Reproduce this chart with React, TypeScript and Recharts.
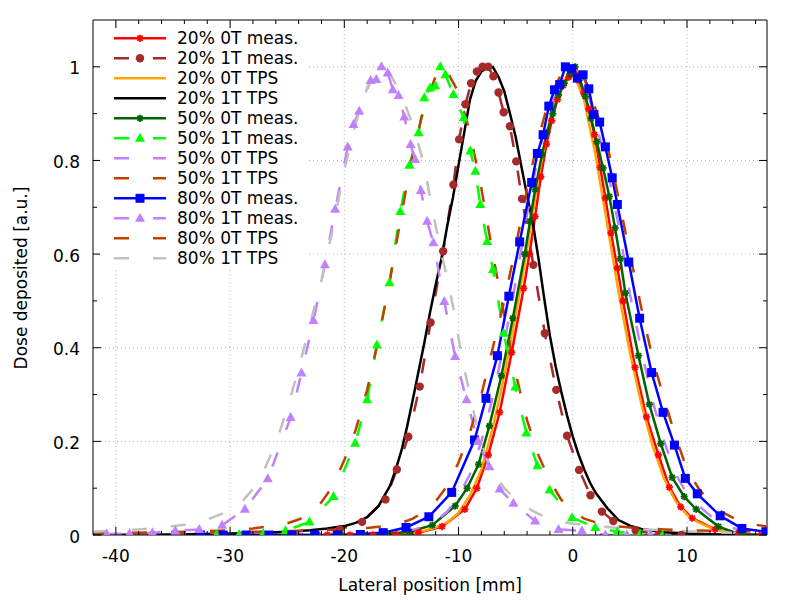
import React from 'react';
import { LineChart, Line, XAxis, YAxis, ReferenceLine } from 'recharts';

type Pt = [number, number];

// ---------- data ----------
const meas20_0T: Pt[] = [[-21.5,0],[-19.5,0],[-17.5,0],[-15.5,0.001],[-13.5,0.005],[-11.45,0.018],[-9.45,0.055],[-8.4,0.1],[-7.4,0.171],[-6.4,0.262],[-5.35,0.39],[-4.3,0.527],[-3.8,0.6],[-3.3,0.68],[-2.8,0.765],[-2.3,0.835],[-1.85,0.885],[-1.35,0.93],[-0.85,0.96],[-0.35,0.978],[0.1,0.985],[0.5,0.972],[0.95,0.945],[1.4,0.91],[1.9,0.855],[2.4,0.785],[2.85,0.72],[3.35,0.645],[3.9,0.57],[4.4,0.5],[5.45,0.358],[6.45,0.252],[7.5,0.171],[8.45,0.102],[9.45,0.06],[10.45,0.036],[12.45,0.012],[14.5,0.002],[16.5,0]];
const meas20_1T: Pt[] = [[-24.4,0],[-22.4,0],[-20.4,0.012],[-18.45,0.028],[-16.4,0.076],[-15.4,0.14],[-14.4,0.21],[-13.4,0.317],[-12.45,0.454],[-11.35,0.606],[-10.45,0.748],[-9.95,0.845],[-9.4,0.92],[-8.9,0.965],[-8.4,0.99],[-7.9,1.0],[-7.4,1.0],[-6.95,0.98],[-6.5,0.945],[-6.05,0.903],[-5.5,0.873],[-4.95,0.798],[-4.45,0.718],[-3.45,0.577],[-2.45,0.431],[-1.45,0.31],[-0.5,0.212],[0.55,0.139],[1.55,0.085],[2.55,0.05],[3.55,0.03],[5.5,0.01],[7.5,0],[9.5,0]];
const tps20_0T: Pt[] = [[-42,0],[-30,0],[-22,0],[-18,0.001],[-16,0.002],[-14,0.005],[-13,0.009],[-12,0.016],[-11,0.027],[-10,0.047],[-9,0.085],[-8,0.14],[-7,0.23],[-6,0.34],[-5,0.47],[-4,0.61],[-3,0.765],[-2,0.89],[-1,0.962],[-0.5,0.98],[0,0.985],[0.5,0.96],[1,0.928],[2,0.81],[3,0.665],[4,0.52],[5,0.39],[6,0.28],[7,0.19],[8,0.12],[9,0.072],[10,0.043],[11,0.027],[12,0.016],[13,0.009],[14,0.004],[15,0.002],[17,0]];
const tps20_1T: Pt[] = [[-42,0],[-35,0.001],[-30,0.003],[-27,0.005],[-25,0.007],[-23,0.01],[-21.5,0.014],[-20,0.019],[-19,0.026],[-18,0.038],[-17,0.062],[-16,0.105],[-15.5,0.14],[-15,0.18],[-14.5,0.232],[-14,0.29],[-13.5,0.35],[-13,0.41],[-12.5,0.475],[-12,0.535],[-11.5,0.59],[-11,0.659],[-10.5,0.72],[-10,0.79],[-9.5,0.86],[-9,0.93],[-8.5,0.97],[-8,0.99],[-7.5,0.997],[-7,1.0],[-6.5,0.978],[-6,0.948],[-5.5,0.9],[-5,0.85],[-4.5,0.787],[-4,0.725],[-3.5,0.667],[-3,0.59],[-2.5,0.505],[-2,0.425],[-1.5,0.36],[-1,0.305],[-0.5,0.255],[0,0.21],[0.5,0.172],[1,0.14],[1.5,0.112],[2,0.09],[3,0.058],[4,0.032],[5,0.02],[6,0.013],[8,0.006],[10,0.003],[13,0.001],[17,0]];
const meas50_0T: Pt[] = [[-20.3,0],[-18.3,0],[-16.3,0.002],[-14.3,0.007],[-12.3,0.021],[-10.3,0.062],[-9.25,0.1],[-8.25,0.151],[-7.3,0.233],[-6.25,0.34],[-5.25,0.463],[-4.2,0.6],[-3.75,0.67],[-3.3,0.738],[-2.7,0.812],[-2.25,0.86],[-1.75,0.9],[-1.25,0.94],[-0.75,0.965],[-0.25,0.985],[0.2,1.0],[0.6,0.975],[1.1,0.937],[1.6,0.89],[2.1,0.84],[2.65,0.784],[3.2,0.723],[3.7,0.656],[4.15,0.59],[4.6,0.517],[5.75,0.383],[6.7,0.279],[7.7,0.195],[8.7,0.123],[9.75,0.082],[10.8,0.055],[12.75,0.018],[14.8,0],[16.8,0]];
const meas50_1T: Pt[] = [[-31.2,0],[-29.2,0.001],[-27.1,0.003],[-25.15,0.009],[-23.05,0.028],[-20.95,0.082],[-19.05,0.196],[-18,0.289],[-17.15,0.406],[-16.05,0.539],[-15.1,0.691],[-14.3,0.79],[-13.5,0.859],[-13,0.934],[-12.5,0.955],[-12.05,0.959],[-11.6,1.0],[-11.15,0.983],[-10.45,0.941],[-9.55,0.891],[-8.97,0.82],[-8.53,0.777],[-8.1,0.706],[-7.5,0.627],[-6.98,0.567],[-6.05,0.431],[-5.03,0.316],[-4.07,0.218],[-3.1,0.148],[-2.03,0.096],[-0.07,0.037],[1.97,0.016],[3.9,0.007],[5.9,0.002],[7.87,0]];
const tps50_0T: Pt[] = [[-42,0.002],[-30,0.002],[-22,0.003],[-18,0.004],[-16,0.006],[-14,0.011],[-13,0.018],[-12,0.03],[-11,0.05],[-10,0.083],[-9,0.13],[-8,0.2],[-7,0.295],[-6,0.41],[-5,0.54],[-4,0.685],[-3,0.815],[-2,0.91],[-1,0.965],[-0.5,0.985],[0,0.995],[0.5,0.99],[1,0.97],[2,0.885],[3,0.784],[4,0.663],[5,0.515],[6,0.395],[7,0.285],[8,0.2],[9,0.13],[10,0.088],[11,0.063],[12,0.042],[13,0.026],[14,0.015],[15,0.009],[17,0.005]];
const tps50_1T: Pt[] = [[-42,0.004],[-38,0.005],[-34,0.007],[-30,0.01],[-28,0.014],[-26,0.02],[-25,0.025],[-24,0.033],[-23,0.045],[-22,0.07],[-21,0.105],[-20,0.16],[-19,0.225],[-18,0.31],[-17,0.42],[-16,0.545],[-15,0.685],[-14,0.815],[-13,0.915],[-12,0.98],[-11.5,1.0],[-11,0.99],[-10,0.945],[-9,0.86],[-8,0.74],[-7,0.6],[-6,0.47],[-5,0.345],[-4,0.245],[-3,0.17],[-2,0.115],[-1,0.075],[0,0.05],[1,0.035],[2,0.027],[4,0.018],[6,0.014],[8,0.012],[10,0.01],[12,0.009],[14,0.008],[17,0.007]];
const meas80_0T: Pt[] = [[-32.6,0],[-30.6,0],[-28.6,0],[-26.6,0],[-24.6,0],[-22.6,0],[-20.6,0],[-18.6,0.001],[-16.6,0.005],[-14.6,0.016],[-12.6,0.039],[-10.6,0.091],[-8.6,0.203],[-7.6,0.292],[-6.6,0.383],[-5.6,0.51],[-4.65,0.626],[-3.6,0.753],[-3.1,0.815],[-2.6,0.855],[-2.1,0.916],[-1.6,0.951],[-1.15,0.962],[-0.65,1.0],[-0.1,0.996],[0.4,0.976],[0.9,0.983],[1.4,0.953],[1.85,0.898],[2.35,0.882],[2.85,0.829],[3.45,0.763],[3.9,0.706],[4.9,0.583],[5.85,0.463],[6.9,0.347],[7.9,0.262],[8.9,0.192],[9.85,0.121],[10.9,0.088],[12.9,0.041],[14.8,0.014],[16.9,0.007]];
const meas80_1T: Pt[] = [[-40.8,0.002],[-38.8,0.003],[-36.8,0.005],[-34.8,0.009],[-32.7,0.012],[-30.7,0.021],[-28.7,0.055],[-26.7,0.12],[-24.7,0.251],[-23.75,0.346],[-22.7,0.458],[-21.7,0.577],[-20.8,0.696],[-19.7,0.829],[-19.2,0.877],[-18.7,0.905],[-17.7,0.971],[-17.2,0.973],[-16.75,1.0],[-16.2,0.987],[-15.75,0.951],[-15.25,0.939],[-14.75,0.893],[-14.2,0.834],[-13.8,0.802],[-13.3,0.736],[-12.75,0.67],[-12.2,0.624],[-11.25,0.499],[-10.3,0.381],[-9.3,0.289],[-8.3,0.2],[-7.3,0.146],[-6.4,0.098],[-5.2,0.068],[-3.3,0.03],[-1.25,0.012],[0.8,0.009],[2.85,0],[4.75,0],[6.8,0]];
const tps80_0T: Pt[] = [[-42,0.004],[-38,0.004],[-34,0.005],[-30,0.006],[-26,0.008],[-22,0.01],[-20,0.012],[-18,0.015],[-16,0.02],[-15,0.026],[-14,0.035],[-13,0.05],[-12,0.072],[-11,0.105],[-10,0.155],[-9,0.22],[-8,0.3],[-7,0.4],[-6,0.5],[-5,0.615],[-4,0.74],[-3,0.85],[-2,0.935],[-1,0.985],[-0.4,1.0],[0,0.998],[1,0.975],[2,0.91],[3,0.835],[4,0.72],[5,0.6],[6,0.485],[7,0.375],[8,0.29],[9,0.21],[10,0.14],[11,0.1],[12,0.07],[13,0.05],[14,0.037],[15,0.028],[16,0.022],[17,0.018]];
const tps80_1T: Pt[] = [[-42,0.007],[-40,0.009],[-38,0.012],[-36,0.016],[-34,0.022],[-32,0.033],[-30,0.052],[-29,0.07],[-28,0.098],[-27,0.14],[-26,0.195],[-25,0.27],[-24,0.355],[-23,0.45],[-22,0.545],[-21,0.655],[-20,0.78],[-19,0.88],[-18,0.955],[-17,0.995],[-16.5,1.0],[-16,0.985],[-15,0.94],[-14,0.875],[-13,0.79],[-12.5,0.72],[-12,0.66],[-11.5,0.6],[-11,0.55],[-10.5,0.49],[-10,0.42],[-9.5,0.355],[-9,0.3],[-8.5,0.245],[-8,0.195],[-7,0.135],[-6,0.1],[-5,0.076],[-4,0.058],[-3,0.045],[-2,0.035],[-1,0.028],[0,0.024],[2,0.019],[4,0.015],[6,0.012],[8,0.01],[10,0.008],[12,0.006],[14,0.005],[17,0.004]];

const xTicks = [-40,-38,-36,-34,-32,-30,-28,-26,-24,-22,-20,-18,-16,-14,-12,-10,-8,-6,-4,-2,0,2,4,6,8,10,12,14,16];
const yTicks = [0,0.1,0.2,0.3,0.4,0.5,0.6,0.7,0.8,0.9,1.0];
const xGrid = [-40,-30,-20,-10,0,10];
const yGrid = [0.2,0.4,0.6,0.8,1.0];
const X_DOMAIN: [number, number] = [-42, 17];
const Y_DOMAIN: [number, number] = [0, 1.1];

type Marker = 'none' | 'star' | 'circle' | 'triangle' | 'square';
interface Series { name: string; data: Pt[]; color: string; dash?: string; marker: Marker; }

const DASH = '15 24';
const SERIES: Series[] = [
  { name: '20% 0T meas.', data: meas20_0T, color: '#ff0000', marker: 'star' },
  { name: '20% 1T meas.', data: meas20_1T, color: '#a52a2a', dash: DASH, marker: 'circle' },
  { name: '20% 0T TPS', data: tps20_0T, color: '#ffa500', marker: 'none' },
  { name: '20% 1T TPS', data: tps20_1T, color: '#000000', marker: 'none' },
  { name: '50% 0T meas.', data: meas50_0T, color: '#006400', marker: 'star' },
  { name: '50% 1T meas.', data: meas50_1T, color: '#00ff00', dash: DASH, marker: 'triangle' },
  { name: '50% 0T TPS', data: tps50_0T, color: '#c080ff', dash: DASH, marker: 'none' },
  { name: '50% 1T TPS', data: tps50_1T, color: '#c04000', dash: DASH, marker: 'none' },
  { name: '80% 0T meas.', data: meas80_0T, color: '#0000ff', marker: 'square' },
  { name: '80% 1T meas.', data: meas80_1T, color: '#c080ff', dash: DASH, marker: 'triangle' },
  { name: '80% 0T TPS', data: tps80_0T, color: '#c04000', dash: DASH, marker: 'none' },
  { name: '80% 1T TPS', data: tps80_1T, color: '#c0c0c0', dash: DASH, marker: 'none' },
];

// ---------- layout ----------
const W = 800, H = 600;
const M = { top: 20, right: 33, bottom: 35, left: 33 };
const X_AXIS_H = 30, Y_AXIS_W = 60;
const PLOT_TOP = M.top;
const PLOT_BOTTOM = H - M.bottom - X_AXIS_H;
const PLOT_LEFT = M.left + Y_AXIS_W;
const PLOT_RIGHT = W - M.right;
const FONT = "'DejaVu Sans', sans-serif";
const FS = 17;

function renderMarker(kind: Marker, cx: number, cy: number, color: string, key: any) {
  if (cx == null || cy == null || isNaN(cx) || isNaN(cy)) return <g key={key} />;
  switch (kind) {
    case 'star': {
      const r = 3.6;
      const d = r * 0.72;
      return (
        <g key={key} stroke={color} strokeWidth={1.8}>
          <line x1={cx - r} y1={cy} x2={cx + r} y2={cy} />
          <line x1={cx} y1={cy - r} x2={cx} y2={cy + r} />
          <line x1={cx - d} y1={cy - d} x2={cx + d} y2={cy + d} />
          <line x1={cx - d} y1={cy + d} x2={cx + d} y2={cy - d} />
        </g>
      );
    }
    case 'circle':
      return <circle key={key} cx={cx} cy={cy} r={4.2} fill={color} stroke="none" />;
    case 'triangle':
      return <polygon key={key} points={`${cx},${cy - 5.5} ${cx - 5},${cy + 3.5} ${cx + 5},${cy + 3.5}`} fill={color} stroke="none" />;
    case 'square':
      return <rect key={key} x={cx - 4.5} y={cy - 4.5} width={9} height={9} fill={color} stroke="none" />;
    default:
      return <g key={key} />;
  }
}

const XTick = (props: any) => {
  const { x, payload } = props;
  const v = payload.value as number;
  const major = Math.abs(v % 10) < 1e-9;
  const len = major ? 8 : 4;
  return (
    <g>
      <line x1={x} x2={x} y1={PLOT_BOTTOM} y2={PLOT_BOTTOM - len} stroke="#000" strokeWidth={1} />
      <line x1={x} x2={x} y1={PLOT_TOP} y2={PLOT_TOP + len} stroke="#000" strokeWidth={1} />
      {major && (
        <text x={x} y={PLOT_BOTTOM + 27} textAnchor="middle" fontSize={FS} fontFamily={FONT} fill="#000">
          {String(v)}
        </text>
      )}
    </g>
  );
};

const YTick = (props: any) => {
  const { y, payload } = props;
  const v = payload.value as number;
  const t = Math.round(v * 10);
  const major = t % 2 === 0;
  const len = major ? 8 : 4;
  const label = t === 0 ? '0' : t === 10 ? '1' : (t / 10).toFixed(1);
  return (
    <g>
      <line x1={PLOT_LEFT} x2={PLOT_LEFT + len} y1={y} y2={y} stroke="#000" strokeWidth={1} />
      <line x1={PLOT_RIGHT} x2={PLOT_RIGHT - len} y1={y} y2={y} stroke="#000" strokeWidth={1} />
      {major && (
        <text x={PLOT_LEFT - 13} y={y + 7.5} textAnchor="end" fontSize={FS} fontFamily={FONT} fill="#000">
          {label}
        </text>
      )}
    </g>
  );
};

const KeyBox = () => {
  const bx = 100, by = 28, bw = 208, bh = 240;
  return (
    <svg
      width={bw}
      height={bh}
      style={{ position: 'absolute', left: bx, top: by, background: '#fff' }}
    >
      {SERIES.map((s, i) => {
        const cy = 10.3 + 20 * i;
        return (
          <g key={s.name}>
            <line x1={14} x2={66} y1={cy} y2={cy} stroke={s.color} strokeWidth={2.5} strokeDasharray={s.dash} />
            {s.marker !== 'none' && renderMarker(s.marker, 40, cy, s.color, 'm')}
            <text x={77} y={cy + 6} fontSize={FS} fontFamily={FONT} fill="#000">{s.name}</text>
          </g>
        );
      })}
    </svg>
  );
};

export default function App() {
  return (
    <div style={{ position: 'absolute', left: 0, top: 0, width: W, height: H, background: '#fff' }}>
      <LineChart width={W} height={H} margin={M}>
        <XAxis
          dataKey="x"
          type="number"
          domain={X_DOMAIN}
          allowDataOverflow
          ticks={xTicks}
          interval={0}
          height={X_AXIS_H}
          tickLine={false}
          axisLine={{ stroke: '#000', strokeWidth: 1 }}
          tick={<XTick />}
        />
        <YAxis
          type="number"
          domain={Y_DOMAIN}
          allowDataOverflow
          ticks={yTicks}
          interval={0}
          width={Y_AXIS_W}
          tickLine={false}
          axisLine={{ stroke: '#000', strokeWidth: 1 }}
          tick={<YTick />}
        />
        {xGrid.map((v) => (
          <ReferenceLine key={`gx${v}`} x={v} stroke="#b4b4b4" strokeWidth={1} strokeDasharray="1 3" />
        ))}
        {yGrid.map((v) => (
          <ReferenceLine key={`gy${v}`} y={v} stroke="#b4b4b4" strokeWidth={1} strokeDasharray="1 3" />
        ))}
        <ReferenceLine y={Y_DOMAIN[1]} stroke="#000" strokeWidth={1} />
        <ReferenceLine x={X_DOMAIN[1]} stroke="#000" strokeWidth={1} />
        {SERIES.map((s) => (
          <Line
            key={s.name}
            data={s.data.map(([x, y]) => ({ x, y }))}
            dataKey="y"
            type="linear"
            stroke={s.color}
            strokeWidth={2.5}
            strokeDasharray={s.dash}
            dot={s.marker === 'none' ? false : (p: any) => renderMarker(s.marker, p.cx, p.cy, s.color, `${s.name}-${p.index}`)}
            activeDot={false}
            isAnimationActive={false}
            legendType="none"
          />
        ))}
      </LineChart>
      <KeyBox />
      <svg width={W} height={H} style={{ position: 'absolute', left: 0, top: 0, pointerEvents: 'none' }}>
        <text x={(PLOT_LEFT + PLOT_RIGHT) / 2} y={591} textAnchor="middle" fontSize={FS} fontFamily={FONT} fill="#000">
          Lateral position [mm]
        </text>
        <text
          x={27}
          y={278}
          transform="rotate(-90 27 278)"
          textAnchor="middle"
          fontSize={FS}
          fontFamily={FONT}
          fill="#000"
        >
          Dose deposited [a.u.]
        </text>
      </svg>
    </div>
  );
}
